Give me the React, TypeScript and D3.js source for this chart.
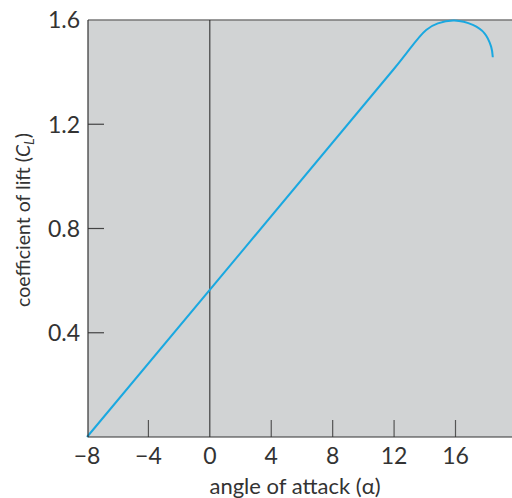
import React from "react";
import * as d3 from "d3";

const xTicks = [-8, -4, 0, 4, 8, 12, 16];
const yTicks = [0.4, 0.8, 1.2, 1.6];
const alpha = [-8, 12, 14.09, 14.85, 15.93, 17.13, 17.89, 18.32, 18.43];
const cl = [0, 1.413, 1.562, 1.587, 1.598, 1.581, 1.549, 1.498, 1.457];

const W = 512;
const H = 498;
const left = 88;
const top = 20;
const bottom = 437;

export default function App() {
  const x = d3.scaleLinear().domain([-8, 16]).range([87, 455.5]);
  const y = d3.scaleLinear().domain([0, 1.6]).range([bottom, top]);
  const pts = alpha.map((a, i) => [a, cl[i]] as [number, number]);
  const line = d3
    .line<[number, number]>()
    .x((d) => x(d[0]))
    .y((d) => y(d[1]))
    .curve(d3.curveCatmullRom.alpha(0.5));
  const font = "Lato, 'Liberation Sans', sans-serif";
  return (
    <svg
      width={W}
      height={H}
      style={{ position: "absolute", left: 0, top: 0 }}
      fontFamily={font}
    >
      <rect x={left} y={top} width={W - left} height={bottom - top} fill="#d1d3d4" />
      <line x1={left} x2={W} y1={top} y2={top} stroke="#777" strokeWidth={1.5} />
      {/* zero line */}
      <line x1={x(0)} x2={x(0)} y1={top} y2={bottom} stroke="#222" strokeWidth={1} />
      {/* y ticks */}
      {yTicks.map((t) => (
        <g key={t}>
          {t < 1.6 && (
            <line x1={left} x2={left + 16} y1={y(t)} y2={y(t)} stroke="#444" strokeWidth={1.2} />
          )}
          <text x={80} y={y(t)} dy="0.36em" textAnchor="end" fontSize={23} fill="#333">
            {t.toFixed(1)}
          </text>
        </g>
      ))}
      {/* x ticks */}
      {xTicks.map((t) => (
        <g key={t}>
          {t !== -8 && t !== 0 && (
            <line x1={x(t)} x2={x(t)} y1={bottom} y2={bottom - 17} stroke="#555" strokeWidth={1.2} />
          )}
          <text x={x(t)} y={464} textAnchor="middle" fontSize={23} fill="#333">
            {t < 0 ? "\u2212" + Math.abs(t) : String(t)}
          </text>
        </g>
      ))}
      <path d={line(pts) ?? ""} fill="none" stroke="#1aa8e0" strokeWidth={2} />
      <line x1={left} x2={left} y1={top} y2={bottom} stroke="#333" strokeWidth={1.2} />
      <line x1={left} x2={W} y1={bottom} y2={bottom} stroke="#333" strokeWidth={1.2} />
      <text x={295} y={494} textAnchor="middle" fontSize={22} fill="#333">
        angle of attack (α)
      </text>
      <text
        transform={`translate(30, 220) rotate(-90)`}
        textAnchor="middle"
        fontSize={19.5}
        fill="#333"
      >
        coefficient of lift (<tspan fontStyle="italic">C</tspan>
        <tspan fontStyle="italic" fontSize={14} dy={4}>L</tspan>
        <tspan dy={-4}>)</tspan>
      </text>
    </svg>
  );
}
